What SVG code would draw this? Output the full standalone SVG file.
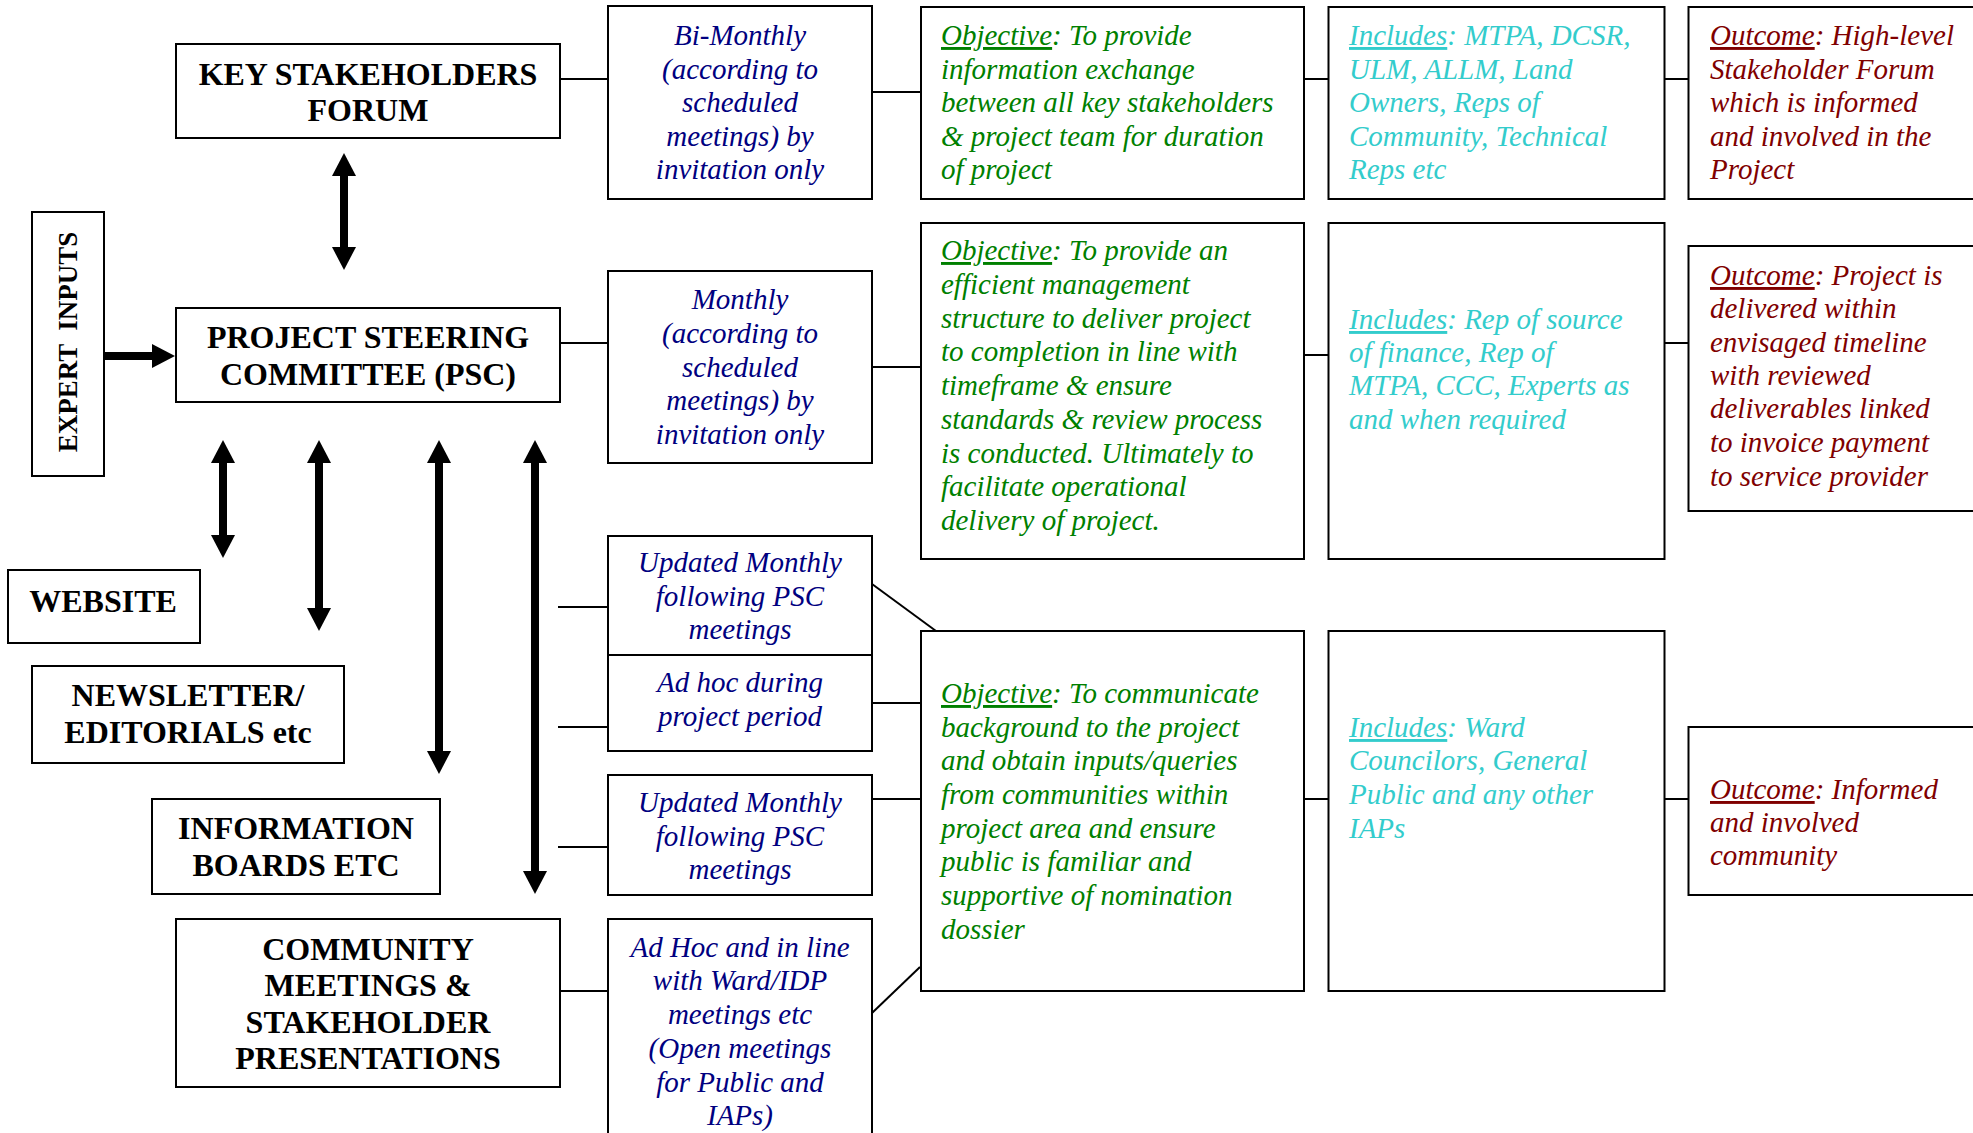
<svg xmlns="http://www.w3.org/2000/svg" width="1973" height="1133" viewBox="0 0 1973 1133">
<style>
rect.box{fill:#fff;stroke:#000;stroke-width:2}
.b{font-family:"Liberation Serif","Times New Roman",serif;font-weight:bold;font-size:32px;fill:#000;text-anchor:middle}
.it{font-family:"Liberation Serif","Times New Roman",serif;font-style:italic;font-size:29px}
.bl{fill:#000080;text-anchor:middle}
.g{fill:#008000}
.c{fill:#33CCCC}
.r{fill:#800000}
.u{text-decoration:underline}
.con line.t{stroke:#000;stroke-width:2}
.con line.a{stroke:#000;stroke-width:8}
</style>
<defs>
<marker id="ah" viewBox="0 -12 23 24" refX="0" refY="0" markerWidth="23" markerHeight="24" markerUnits="userSpaceOnUse" orient="auto-start-reverse" overflow="visible">
<path d="M0,-12 L23,0 L0,12 z" fill="#000"/>
</marker>
</defs>
<rect width="1973" height="1133" fill="#fff"/>

<g id="connectors" class="con">
<line class="a" x1="344" y1="176" x2="344" y2="247" marker-start="url(#ah)" marker-end="url(#ah)"/>
<line class="a" x1="104" y1="356" x2="152" y2="356" marker-end="url(#ah)"/>
<line class="a" x1="223" y1="463" x2="223" y2="535" marker-start="url(#ah)" marker-end="url(#ah)"/>
<line class="a" x1="319" y1="463" x2="319" y2="608" marker-start="url(#ah)" marker-end="url(#ah)"/>
<line class="a" x1="439" y1="463" x2="439" y2="751" marker-start="url(#ah)" marker-end="url(#ah)"/>
<line class="a" x1="535" y1="463" x2="535" y2="871" marker-start="url(#ah)" marker-end="url(#ah)"/>
<line class="t" x1="560" y1="79" x2="608" y2="79"/>
<line class="t" x1="872" y1="92" x2="921" y2="92"/>
<line class="t" x1="1304" y1="79" x2="1328" y2="79"/>
<line class="t" x1="1665" y1="79" x2="1688" y2="79"/>
<line class="t" x1="560" y1="343" x2="608" y2="343"/>
<line class="t" x1="872" y1="367" x2="921" y2="367"/>
<line class="t" x1="1304" y1="355" x2="1328" y2="355"/>
<line class="t" x1="1665" y1="343" x2="1688" y2="343"/>
<line class="t" x1="558" y1="607" x2="608" y2="607"/>
<line class="t" x1="558" y1="727" x2="608" y2="727"/>
<line class="t" x1="558" y1="847" x2="608" y2="847"/>
<line class="t" x1="872" y1="584" x2="936" y2="631"/>
<line class="t" x1="872" y1="703" x2="921" y2="703"/>
<line class="t" x1="872" y1="799" x2="921" y2="799"/>
<line class="t" x1="872" y1="1013" x2="920" y2="967"/>
<line class="t" x1="560" y1="991" x2="608" y2="991"/>
<line class="t" x1="1304" y1="799" x2="1328" y2="799"/>
<line class="t" x1="1665" y1="799" x2="1688" y2="799"/>
</g>

<g id="ksf"><rect class="box" x="176" y="44" width="384" height="94"/>
<text class="b"><tspan x="368" y="85">KEY STAKEHOLDERS</tspan><tspan x="368" y="121">FORUM</tspan></text></g>

<g id="expert"><rect class="box" x="32" y="212" width="72" height="264"/>
<text class="b" style="font-size:27px" transform="translate(77,342) rotate(-90)" x="0" y="0" xml:space="preserve">EXPERT  INPUTS</text></g>

<g id="psc"><rect class="box" x="176" y="308" width="384" height="94"/>
<text class="b"><tspan x="368" y="348">PROJECT STEERING</tspan><tspan x="368" y="385">COMMITTEE (PSC)</tspan></text></g>

<g id="website"><rect class="box" x="8" y="570" width="192" height="73"/>
<text class="b" x="103" y="612">WEBSITE</text></g>

<g id="newsletter"><rect class="box" x="32" y="666" width="312" height="97"/>
<text class="b"><tspan x="188" y="706">NEWSLETTER/</tspan><tspan x="188" y="743">EDITORIALS etc</tspan></text></g>

<g id="infoboards"><rect class="box" x="152" y="799" width="288" height="95"/>
<text class="b"><tspan x="296" y="839">INFORMATION</tspan><tspan x="296" y="876">BOARDS ETC</tspan></text></g>

<g id="community"><rect class="box" x="176" y="919" width="384" height="168"/>
<text class="b"><tspan x="368" y="960">COMMUNITY</tspan><tspan x="368" y="996">MEETINGS &amp;</tspan><tspan x="368" y="1033">STAKEHOLDER</tspan><tspan x="368" y="1069">PRESENTATIONS</tspan></text></g>

<g id="bimonthly"><rect class="box" x="608" y="6" width="264" height="193"/>
<text class="it bl"><tspan x="740" y="45">Bi-Monthly</tspan><tspan x="740" y="79">(according to</tspan><tspan x="740" y="112">scheduled</tspan><tspan x="740" y="146">meetings) by</tspan><tspan x="740" y="179">invitation only</tspan></text></g>

<g id="monthly"><rect class="box" x="608" y="271" width="264" height="192"/>
<text class="it bl"><tspan x="740" y="309">Monthly</tspan><tspan x="740" y="343">(according to</tspan><tspan x="740" y="377">scheduled</tspan><tspan x="740" y="410">meetings) by</tspan><tspan x="740" y="444">invitation only</tspan></text></g>

<g id="updated1"><rect class="box" x="608" y="536" width="264" height="119"/>
<text class="it bl"><tspan x="740" y="572">Updated Monthly</tspan><tspan x="740" y="606">following PSC</tspan><tspan x="740" y="639">meetings</tspan></text></g>

<g id="adhoc1"><rect class="box" x="608" y="655" width="264" height="96"/>
<text class="it bl"><tspan x="740" y="692">Ad hoc during</tspan><tspan x="740" y="726">project period</tspan></text></g>

<g id="updated2"><rect class="box" x="608" y="775" width="264" height="120"/>
<text class="it bl"><tspan x="740" y="812">Updated Monthly</tspan><tspan x="740" y="846">following PSC</tspan><tspan x="740" y="879">meetings</tspan></text></g>

<g id="adhoc2"><rect class="box" x="608" y="919" width="264" height="300"/>
<text class="it bl"><tspan x="740" y="957">Ad Hoc and in line</tspan><tspan x="740" y="990">with Ward/IDP</tspan><tspan x="740" y="1024">meetings etc</tspan><tspan x="740" y="1058">(Open meetings</tspan><tspan x="740" y="1092">for Public and</tspan><tspan x="740" y="1125">IAPs)</tspan></text></g>

<g id="objective1"><rect class="box" x="921" y="7" width="383" height="192"/>
<text class="it g"><tspan x="941" y="45"><tspan class="u">Objective</tspan>: To provide</tspan><tspan x="941" y="79">information exchange</tspan><tspan x="941" y="112">between all key stakeholders</tspan><tspan x="941" y="146">&amp; project team for duration</tspan><tspan x="941" y="179">of project</tspan></text></g>

<g id="includes1"><rect class="box" x="1328.5" y="7" width="336" height="192"/>
<text class="it c"><tspan x="1349" y="45"><tspan class="u">Includes</tspan>: MTPA, DCSR,</tspan><tspan x="1349" y="79">ULM, ALLM, Land</tspan><tspan x="1349" y="112">Owners, Reps of</tspan><tspan x="1349" y="146">Community, Technical</tspan><tspan x="1349" y="179">Reps etc</tspan></text></g>

<g id="outcome1"><rect class="box" x="1688.5" y="7" width="320" height="192"/>
<text class="it r"><tspan x="1710" y="45"><tspan class="u">Outcome</tspan>: High-level</tspan><tspan x="1710" y="79">Stakeholder Forum</tspan><tspan x="1710" y="112">which is informed</tspan><tspan x="1710" y="146">and involved in the</tspan><tspan x="1710" y="179">Project</tspan></text></g>

<g id="objective2"><rect class="box" x="921" y="223" width="383" height="336"/>
<text class="it g"><tspan x="941" y="260"><tspan class="u">Objective</tspan>: To provide an</tspan><tspan x="941" y="294">efficient management</tspan><tspan x="941" y="328">structure to deliver project</tspan><tspan x="941" y="361">to completion in line with</tspan><tspan x="941" y="395">timeframe &amp; ensure</tspan><tspan x="941" y="429">standards &amp; review process</tspan><tspan x="941" y="463">is conducted. Ultimately to</tspan><tspan x="941" y="496">facilitate operational</tspan><tspan x="941" y="530">delivery of project.</tspan></text></g>

<g id="includes2"><rect class="box" x="1328.5" y="223" width="336" height="336"/>
<text class="it c"><tspan x="1349" y="329"><tspan class="u">Includes</tspan>: Rep of source</tspan><tspan x="1349" y="362">of finance, Rep of</tspan><tspan x="1349" y="395">MTPA, CCC, Experts as</tspan><tspan x="1349" y="429">and when required</tspan></text></g>

<g id="outcome2"><rect class="box" x="1688.5" y="246" width="320" height="265"/>
<text class="it r"><tspan x="1710" y="285"><tspan class="u">Outcome</tspan>: Project is</tspan><tspan x="1710" y="318">delivered within</tspan><tspan x="1710" y="352">envisaged timeline</tspan><tspan x="1710" y="385">with reviewed</tspan><tspan x="1710" y="418">deliverables linked</tspan><tspan x="1710" y="452">to invoice payment</tspan><tspan x="1710" y="486">to service provider</tspan></text></g>

<g id="objective3"><rect class="box" x="921" y="631" width="383" height="360"/>
<text class="it g"><tspan x="941" y="703"><tspan class="u">Objective</tspan>: To communicate</tspan><tspan x="941" y="737">background to the project</tspan><tspan x="941" y="770">and obtain inputs/queries</tspan><tspan x="941" y="804">from communities within</tspan><tspan x="941" y="838">project area and ensure</tspan><tspan x="941" y="871">public is familiar and</tspan><tspan x="941" y="905">supportive of nomination</tspan><tspan x="941" y="939">dossier</tspan></text></g>

<g id="includes3"><rect class="box" x="1328.5" y="631" width="336" height="360"/>
<text class="it c"><tspan x="1349" y="737"><tspan class="u">Includes</tspan>: Ward</tspan><tspan x="1349" y="770">Councilors, General</tspan><tspan x="1349" y="804">Public and any other</tspan><tspan x="1349" y="838">IAPs</tspan></text></g>

<g id="outcome3"><rect class="box" x="1688.5" y="727" width="320" height="168"/>
<text class="it r"><tspan x="1710" y="799"><tspan class="u">Outcome</tspan>: Informed</tspan><tspan x="1710" y="832">and involved</tspan><tspan x="1710" y="865">community</tspan></text></g>
</svg>
